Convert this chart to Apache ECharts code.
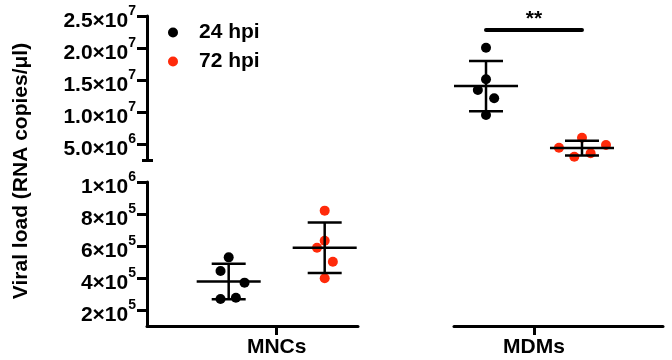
<!DOCTYPE html>
<html><head><meta charset="utf-8">
<script src="https://cdn.jsdelivr.net/npm/echarts@6/dist/echarts.min.js"></script>
<style>html,body{margin:0;padding:0;background:#fff}#c{width:672px;height:360px}</style>
</head><body><div id="c"></div>
<script>
// ---------- data ----------
const groups = ['MNCs', 'MDMs'];
const seriesNames = ['24 hpi', '72 hpi'];
const mnc24 = [5.29e5, 4.44e5, 3.71e5, 2.69e5, 2.77e5];
const mnc72 = [8.21e5, 6.33e5, 5.89e5, 5.02e5, 3.98e5];
const mdm24 = [2.005e7, 1.511e7, 1.344e7, 1.214e7, 9.53e6];
const mdm72 = [5.98e6, 4.42e6, 4.84e6, 3.55e6, 3.02e6];
// horizontal scatter of the dots within each column (group units)
const jitMnc24 = [0, -0.17, 0.33, -0.17, 0.15];
const jitMnc72 = [0, 0, -0.16, 0.17, 0];
const jitMdm24 = [0, 0, -0.17, 0.17, 0];
const jitMdm72 = [0, -0.48, 0.5, 0.18, -0.16];
const lowerTicks = [2e5, 4e5, 6e5, 8e5, 1e6];
const upperTicks = [5e6, 1e7, 1.5e7, 2e7, 2.5e7];
const sigLabel = '**';
const sigValue = 2.28e7;
const yTitle = 'Viral load (RNA copies/\u03bcl)';

// ---------- helpers ----------
const FONT = '"Liberation Sans", Arial, sans-serif';
const RED = '#ff2a0a';
const colors = ['#000000', RED];
const OFF = [-1, 1]; // column offset of each series within a group

function stats(a) {
  const n = a.length, m = a.reduce((s, v) => s + v, 0) / n;
  const sd = Math.sqrt(a.reduce((s, v) => s + (v - m) * (v - m), 0) / (n - 1));
  return [m, sd];
}
function pts(vals, jit, off) { return vals.map((v, i) => [off + jit[i], v]); }

function sciLabel(decimals) {
  return function (v) {
    const e = Math.floor(Math.log10(v) + 1e-9);
    const m = v / Math.pow(10, e);
    return '{b|' + m.toFixed(decimals) + '\u00d710}{s|' + e + '}';
  };
}
const richSci = {
  b: { fontSize: 21, fontWeight: 'bold', color: '#000', fontFamily: FONT, lineHeight: 27, verticalAlign: 'bottom' },
  s: { fontSize: 14, fontWeight: 'bold', color: '#000', fontFamily: FONT, lineHeight: 14, verticalAlign: 'top' }
};

function scatter(name, vals, jit, off, xi, yi, color, extra) {
  return Object.assign({
    type: 'scatter', name: name, xAxisIndex: xi, yAxisIndex: yi,
    symbol: 'circle', symbolSize: 10, itemStyle: { color: color, opacity: 1 },
    data: pts(vals, jit, off), z: 3
  }, extra || {});
}
function errBar(vals, off, xi, yi) {
  const st = stats(vals);
  return {
    type: 'custom', xAxisIndex: xi, yAxisIndex: yi, z: 4, silent: true,
    data: [[off, st[0], st[1]]],
    renderItem: function (params, api) {
      const x = api.value(0), m = api.value(1), s = api.value(2);
      const c = api.coord([x, m]), hi = api.coord([x, m + s]), lo = api.coord([x, m - s]);
      const hw = api.size([0.667, 0])[0], cw = api.size([0.354, 0])[0];
      const st = { stroke: '#000', lineWidth: 2.5 };
      return { type: 'group', children: [
        { type: 'line', shape: { x1: c[0] - hw, y1: c[1], x2: c[0] + hw, y2: c[1] }, style: st },
        { type: 'line', shape: { x1: hi[0], y1: hi[1], x2: lo[0], y2: lo[1] }, style: st },
        { type: 'line', shape: { x1: hi[0] - cw, y1: hi[1], x2: hi[0] + cw, y2: hi[1] }, style: st },
        { type: 'line', shape: { x1: lo[0] - cw, y1: lo[1], x2: lo[0] + cw, y2: lo[1] }, style: st }
      ]};
    }
  };
}

const axLine = { show: true, onZero: false, lineStyle: { color: '#000', width: 3 } };
const xMinL = -2.702, xMaxL = 1.694, xMinR = -1.667, xMaxR = 2.688;

function catX(gi, min, max, label) {
  return {
    type: 'value', gridIndex: gi, min: min, max: max,
    axisLine: axLine, splitLine: { show: false },
    axisTick: { show: true, customValues: [0], length: 9, lineStyle: { color: '#000', width: 3 } },
    axisLabel: { show: true, customValues: [0], formatter: () => label, margin: 11,
      fontSize: 21, fontWeight: 'bold', color: '#000', fontFamily: FONT }
  };
}
function valY(gi, min, max, ticks, dec) {
  return {
    type: 'value', gridIndex: gi, min: min, max: max,
    axisLine: axLine, splitLine: { show: false },
    axisTick: { show: true, customValues: ticks, length: 10, lineStyle: { color: '#000', width: 3 } },
    axisLabel: { show: true, customValues: ticks, formatter: sciLabel(dec), margin: 11, padding: [4, 0, 0, 0], rich: richSci }
  };
}
function hidY(gi, min, max) { return { type: 'value', gridIndex: gi, min: min, max: max, show: false }; }
function capY(gi, min, max, inside, len) {
  return { type: 'value', gridIndex: gi, min: min, max: max, position: 'left',
    axisLine: { show: false, onZero: false }, splitLine: { show: false }, axisLabel: { show: false },
    axisTick: { show: true, inside: inside, customValues: [min], length: len, lineStyle: { color: '#000', width: 3 } } };
}

const upMin = 2.5e6, upMax = 2.5e7, loMin = 1e5, loMax = 1e6;

const option = {
  animation: false,
  textStyle: { fontFamily: FONT },
  grid: [
    { left: 147, top: 16, width: 211, height: 144 },
    { left: 454, top: 16, width: 209, height: 144 },
    { left: 147, top: 182, width: 211, height: 144 },
    { left: 454, top: 182, width: 209, height: 144 }
  ],
  xAxis: [
    { type: 'value', gridIndex: 0, min: xMinL, max: xMaxL, show: false },
    { type: 'value', gridIndex: 1, min: xMinR, max: xMaxR, show: false },
    catX(2, xMinL, xMaxL, groups[0]),
    catX(3, xMinR, xMaxR, groups[1])
  ],
  yAxis: [
    valY(0, upMin, upMax, upperTicks, 1),
    hidY(1, upMin, upMax),
    valY(2, loMin, loMax, lowerTicks, 0),
    hidY(3, loMin, loMax),
    capY(0, upMin, upMax, true, 6),
    capY(0, upMin, upMax, false, 5)
  ],
  legend: {
    data: seriesNames, orient: 'vertical', left: 163, top: 17,
    itemWidth: 10, itemHeight: 10, itemGap: 8, icon: 'circle',
    textStyle: { fontSize: 21, fontWeight: 'bold', color: '#000', fontFamily: FONT, lineHeight: 21, padding: [0, 0, 0, 16] },
    selectedMode: false
  },
  graphic: [{
    type: 'text', x: 21, y: 171, rotation: Math.PI / 2,
    style: { text: yTitle, textAlign: 'center', textVerticalAlign: 'middle',
      font: 'bold 21px ' + FONT, fill: '#000' }
  }],
  series: [
    scatter(seriesNames[0], mnc24, jitMnc24, OFF[0], 2, 2, colors[0]),
    scatter(seriesNames[1], mnc72, jitMnc72, OFF[1], 2, 2, colors[1]),
    scatter(seriesNames[0], mdm24, jitMdm24, OFF[0], 1, 1, colors[0], {
      markLine: {
        silent: true, symbol: ['none', 'none'], animation: false,
        lineStyle: { color: '#000', width: 4, type: 'solid', cap: 'round' },
        label: { show: true, position: 'middle', formatter: sigLabel, fontSize: 21, fontWeight: 'bold', color: '#000', distance: 0 },
        data: [[{ coord: [OFF[0], sigValue] }, { coord: [OFF[1], sigValue] }]]
      }
    }),
    scatter(seriesNames[1], mdm72, jitMdm72, OFF[1], 1, 1, colors[1]),
    errBar(mnc24, OFF[0], 2, 2),
    errBar(mnc72, OFF[1], 2, 2),
    errBar(mdm24, OFF[0], 1, 1),
    errBar(mdm72, OFF[1], 1, 1)
  ]
};
const chart = echarts.init(document.getElementById('c'), null, { renderer: 'canvas' });
chart.setOption(option);
</script>
</body></html>
